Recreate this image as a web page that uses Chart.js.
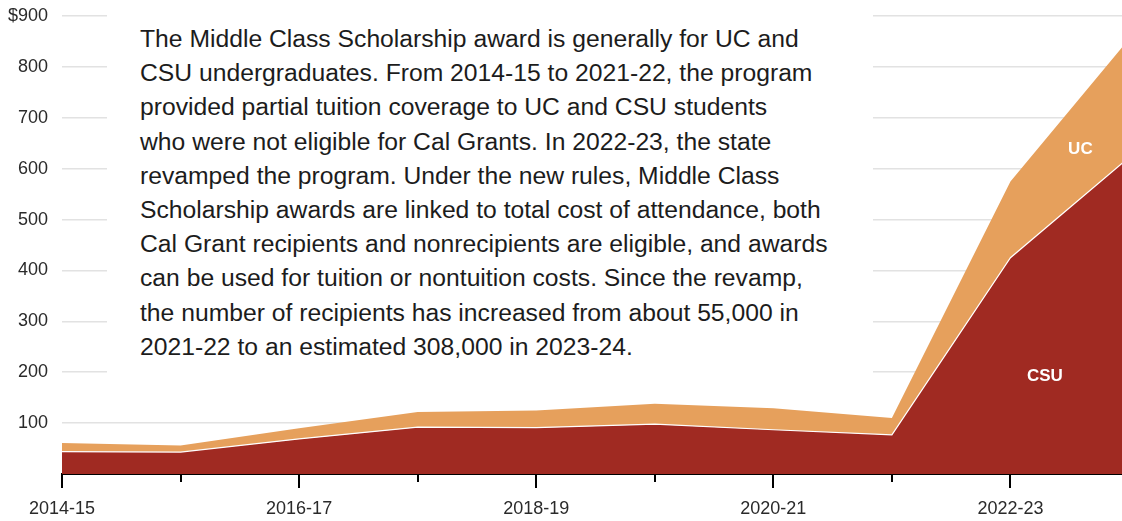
<!DOCTYPE html>
<html>
<head>
<meta charset="utf-8">
<script src="https://cdn.jsdelivr.net/npm/chart.js@4/dist/chart.umd.min.js"></script>
<style>
  html, body { margin: 0; padding: 0; width: 1122px; height: 521px; overflow: hidden; background: #fff; }
  #wrap { position: absolute; left: 0; top: 0; width: 1129px; height: 521px; }
  #note {
    position: absolute; left: 107px; top: 0; width: 766px; height: 398px;
    background: #fff; box-sizing: border-box; padding: 22px 0 0 33px;
    font-family: "Liberation Sans", Arial, sans-serif; font-size: 24.7px; line-height: 34.2px; color: #1c1c1c;
    white-space: nowrap;
  }
</style>
</head>
<body>
<div id="wrap"><canvas id="c"></canvas></div>
<div id="note">The Middle Class Scholarship award is generally for UC and<br>CSU undergraduates. From 2014-15 to 2021-22, the program<br>provided partial tuition coverage to UC and CSU students<br>who were not eligible for Cal Grants. In 2022-23, the state<br>revamped the program. Under the new rules, Middle Class<br>Scholarship awards are linked to total cost of attendance, both<br>Cal Grant recipients and nonrecipients are eligible, and awards<br>can be used for tuition or nontuition costs. Since the revamp,<br>the number of recipients has increased from about 55,000 in<br>2021-22 to an estimated 308,000 in 2023-24.</div>
<script>
const years = ['2014-15','2015-16','2016-17','2017-18','2018-19','2019-20','2020-21','2021-22','2022-23','2023-24'];
const csuValues = [44, 43, 69, 92, 91, 98, 87, 77, 425, 622];
const ucValues = [17, 13, 21, 30, 34, 40, 42, 33, 150, 233];
const yMax = 900;
const yStep = 100;
const seriesNames = ['CSU', 'UC'];

const CSU_COLOR = '#a02a22';
const UC_COLOR = '#e6a05c';
const FONT = '"Liberation Sans", Arial, sans-serif';

const extras = {
  id: 'extras',
  afterDatasetsDraw(chart) {
    const ctx = chart.ctx;
    const x = chart.scales.x, y = chart.scales.y;
    ctx.save();
    ctx.strokeStyle = '#000';
    ctx.lineWidth = 2;
    const base = chart.chartArea.bottom;
    years.forEach((yr, i) => {
      if (i % 2 === 1) {
        const px = Math.round(x.getPixelForValue(i));
        ctx.beginPath();
        ctx.moveTo(px, base);
        ctx.lineTo(px, base + 8);
        ctx.stroke();
      }
    });
    ctx.fillStyle = '#fff';
    ctx.font = 'bold 17px ' + FONT;
    ctx.textAlign = 'center';
    ctx.textBaseline = 'middle';
    ctx.fillText(seriesNames[1], x.getPixelForValue(8.59), y.getPixelForValue(639));
    ctx.fillText(seriesNames[0], x.getPixelForValue(8.29), y.getPixelForValue(192));
    ctx.restore();
  }
};

new Chart(document.getElementById('c'), {
  type: 'line',
  data: {
    labels: years,
    datasets: [
      { label: seriesNames[0], data: csuValues, backgroundColor: CSU_COLOR, borderColor: '#ffffff', borderWidth: 1.2, fill: 'origin', pointRadius: 0, tension: 0 },
      { label: seriesNames[1], data: ucValues, backgroundColor: UC_COLOR, borderColor: UC_COLOR, borderWidth: 0, fill: '-1', pointRadius: 0, tension: 0 }
    ]
  },
  options: {
    responsive: true,
    maintainAspectRatio: false,
    animation: false,
    layout: { padding: { top: 16, right: 0, left: 0, bottom: 0 } },
    plugins: { legend: { display: false }, tooltip: { enabled: false } },
    scales: {
      x: {
        offset: false,
        grid: {
          drawOnChartArea: false,
          drawTicks: true,
          tickLength: 14,
          lineWidth: 2,
          color: (c) => (c.index % 2 === 0 ? '#000' : 'rgba(0,0,0,0)')
        },
        border: { display: true, color: '#000', width: 2 },
        ticks: {
          autoSkip: false,
          maxRotation: 0,
          padding: 10,
          color: '#2a2a2a',
          font: { family: FONT, size: 18 },
          callback: (v, i) => (i % 2 === 0 ? years[i] : '')
        },
        afterFit: (s) => { s.height = 47; s.paddingLeft = 0; s.paddingRight = 0; }
      },
      y: {
        stacked: true,
        min: 0,
        max: yMax,
        grid: {
          drawTicks: false,
          color: (c) => (c.tick && c.tick.value === 0 ? 'rgba(0,0,0,0)' : '#e2e2e2'),
          lineWidth: 1.6
        },
        border: { display: false },
        ticks: {
          stepSize: yStep,
          padding: 14,
          color: '#2a2a2a',
          font: { family: FONT, size: 18 },
          callback: (v) => (v === 0 ? '' : (v === yMax ? '$' + v : String(v)))
        },
        afterFit: (s) => { s.width = 62; s.paddingTop = 0; s.paddingBottom = 0; }
      }
    }
  },
  plugins: [extras]
});
</script>
</body>
</html>
